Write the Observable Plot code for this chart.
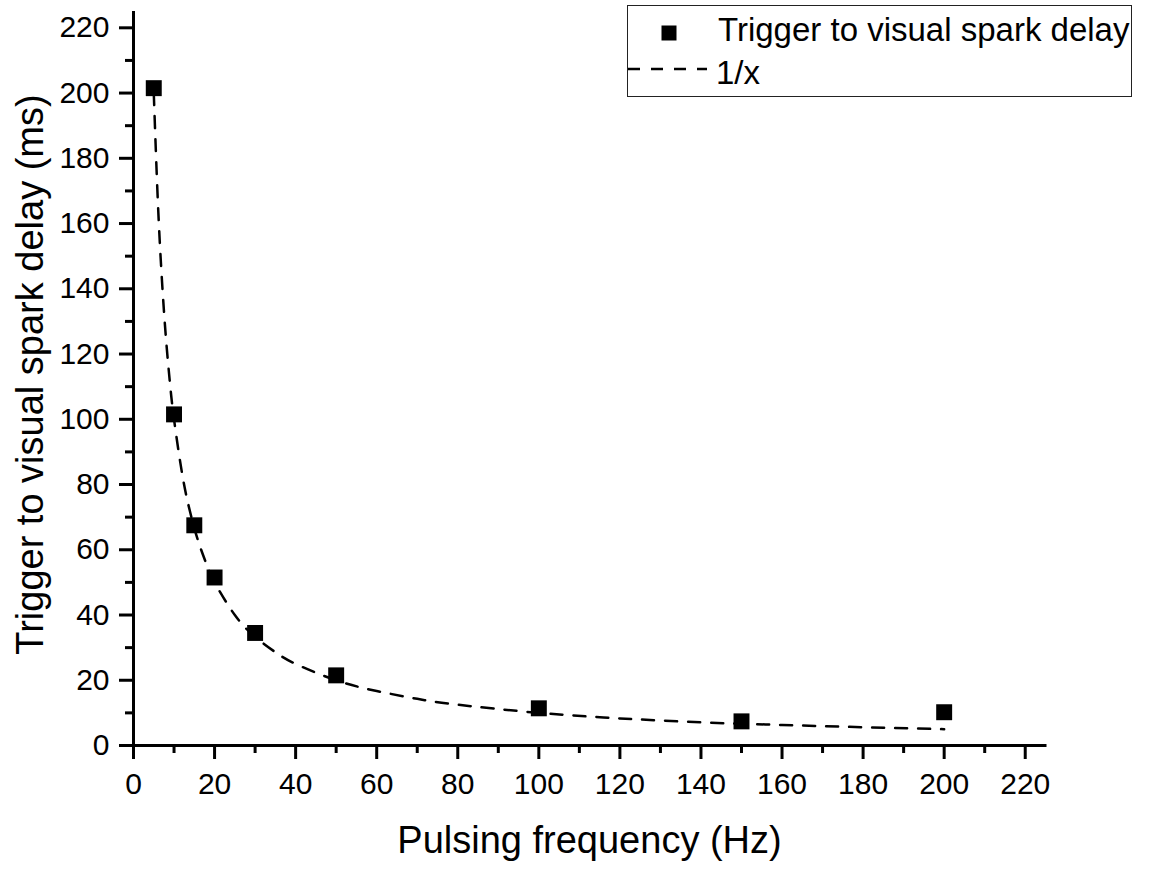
<!DOCTYPE html>
<html>
<head>
<meta charset="utf-8">
<script src="https://cdn.jsdelivr.net/npm/d3@7"></script>
<script src="https://cdn.jsdelivr.net/npm/@observablehq/plot@0.6"></script>
<style>
  html, body { margin: 0; padding: 0; background: #fff; }
  #wrap { position: relative; width: 1163px; height: 869px; font-family: Arial, "Liberation Sans", sans-serif; }
  #legend { position: absolute; left: 627px; top: 5px; width: 505px; height: 92px; border: 1px solid #222; box-sizing: border-box; background: #fff; }
  #legend svg { position: absolute; left: 0; top: 0; }
</style>
</head>
<body>
<div id="wrap"></div>
<script>
// Measured points
const freq = [5, 10, 15, 20, 30, 50, 100, 150, 200];
const delay = [201.5, 101.5, 67.5, 51.5, 34.5, 21.5, 11.4, 7.4, 10.2];

// Dashed 1/x fit curve
const fitX = [5, 6, 7, 8, 9, 10, 12, 14, 16, 18, 20, 25, 30, 35, 40, 50, 60, 70, 80, 100, 120, 140, 160, 180, 200];
const fitY = [200, 167, 143, 125, 111, 100, 83.3, 71.4, 62.5, 55.6, 50, 40, 33.3, 28.6, 25, 20, 16.7, 14.3, 12.5, 10, 8.3, 7.1, 6.3, 5.6, 5.0];

// Tick labels
const xTicks = [0, 20, 40, 60, 80, 100, 120, 140, 160, 180, 200, 220];
const xMinor = [10, 30, 50, 70, 90, 110, 130, 150, 170, 190, 210];
const yTicks = [0, 20, 40, 60, 80, 100, 120, 140, 160, 180, 200, 220];
const yMinor = [10, 30, 50, 70, 90, 110, 130, 150, 170, 190, 210];

const xTitle = "Pulsing frequency (Hz)";
const yTitle = "Trigger to visual spark delay (ms)";
const legendPoints = "Trigger to visual spark delay";
const legendFit = "1/x";

const points = freq.map((f, i) => ({x: f, y: delay[i]}));
const fit = fitX.map((f, i) => ({x: f, y: fitY[i]}));

const chart = Plot.plot({
  width: 1163,
  height: 869,
  marginLeft: 133,
  marginRight: 118,
  marginTop: 11,
  marginBottom: 124,
  style: {fontFamily: "Arial, 'Liberation Sans', sans-serif", fontSize: "30px", color: "#000", background: "#fff"},
  x: {domain: [0, 225]},
  y: {domain: [0, 225]},
  marks: [
    Plot.axisX({ticks: xMinor, tickSize: 8, strokeWidth: 3, text: null, label: null}),
    Plot.axisY({ticks: yMinor, tickSize: 8, strokeWidth: 3, text: null, label: null}),
    Plot.axisX({ticks: xTicks, tickSize: 14, tickPadding: 13, strokeWidth: 3, fontSize: 30, label: null, tickFormat: d => String(d)}),
    Plot.axisY({ticks: yTicks, tickSize: 14, tickPadding: 10, strokeWidth: 3, fontSize: 30, label: null, tickFormat: d => String(d)}),
    Plot.ruleX([0], {strokeWidth: 3, stroke: "#000"}),
    Plot.ruleY([0], {strokeWidth: 3, stroke: "#000", strokeLinecap: "square"}),
    Plot.line(fit, {x: "x", y: "y", curve: "natural", stroke: "#000", strokeWidth: 2.5, strokeDasharray: "12,11"}),
    Plot.dot(points, {x: "x", y: "y", symbol: "square", r: 9, fill: "#000", stroke: null}),
    Plot.text([xTitle], {frameAnchor: "bottom", textAnchor: "middle", lineAnchor: "bottom", dy: 107, fontSize: 38, fill: "#000"}),
    Plot.text([yTitle], {frameAnchor: "left", textAnchor: "middle", lineAnchor: "bottom", rotate: -90, dx: -91, dy: -4, fontSize: 38, fill: "#000"})
  ]
});

const wrap = document.getElementById("wrap");
wrap.appendChild(chart);

// Legend
const legend = document.createElement("div");
legend.id = "legend";
legend.innerHTML = `
<svg width="505" height="92" xmlns="http://www.w3.org/2000/svg" font-family="Arial, 'Liberation Sans', sans-serif">
  <rect x="33.5" y="19.5" width="15" height="15" fill="#000"></rect>
  <text x="90" y="35" font-size="33" fill="#000">${legendPoints}</text>
  <line x1="0" x2="79" y1="63" y2="63" stroke="#000" stroke-width="2.5" stroke-dasharray="12,11"></line>
  <text x="88" y="78" font-size="33" fill="#000">${legendFit}</text>
</svg>`;
wrap.appendChild(legend);
</script>
</body>
</html>
